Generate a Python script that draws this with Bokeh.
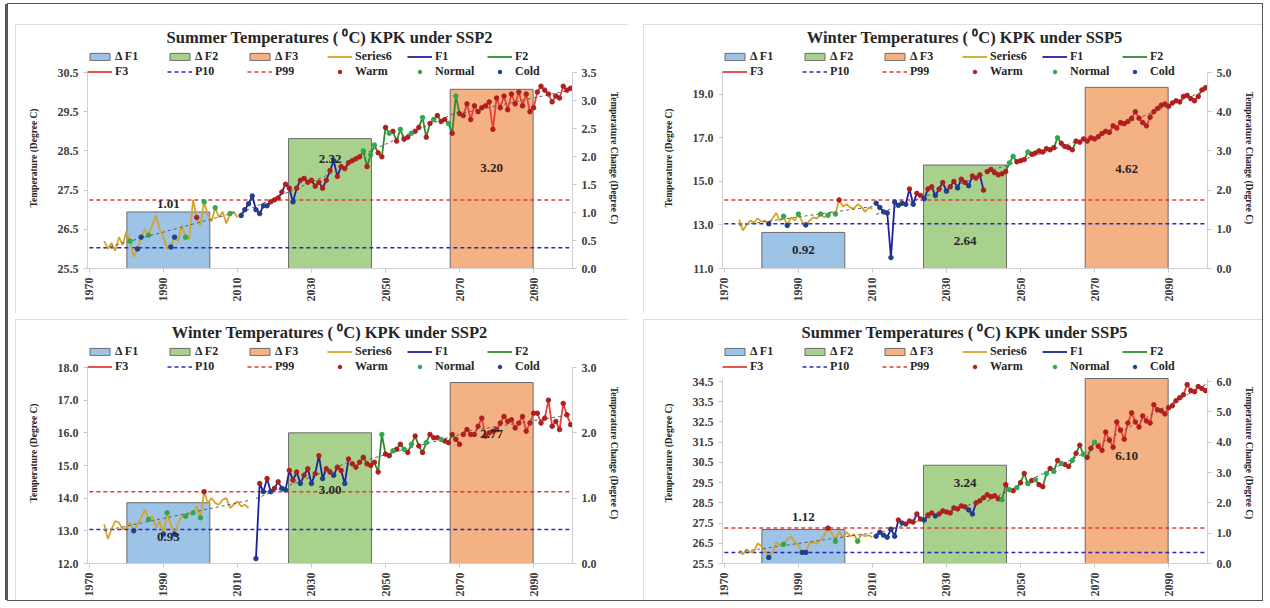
import math
import numpy as np
from bokeh.plotting import figure
from bokeh.models import (Range1d, LinearAxis, FixedTicker, NumeralTickFormatter,
                          Legend, LegendItem, ColumnDataSource, LabelSet)
from bokeh.layouts import column, row
from bokeh.embed import file_html
from bokeh.resources import INLINE

# ---------------- data ----------------
AXIS_YEARS = list(range(1970, 2101))          # category axis of the original chart
HIST_START = 1974                             # first year of Series6
FUT_START = 2011                              # first year of F1..F3
PERIODS = ["Δ F1", "Δ F2", "Δ F3"]
X_TICKS = [1970, 1990, 2010, 2030, 2050, 2070, 2090]

# --- Summer SSP2 (top left)
TL_HIST = [26.2, 26.0, 26.15, 25.95, 26.3, 26.1, 26.45,
           26.2, 25.8, 26.0, 26.3, 26.5, 26.35, 26.6, 26.85, 26.5, 26.3,
           26.0, 26.05, 26.3, 26.2, 26.6, 26.3, 26.25, 27.25, 26.8, 26.6,
           27.2, 26.85, 26.7, 27.05, 26.8, 26.95, 26.65, 26.9, 26.95, 26.8]
TL_HIST_CAT = "......." + "N.CC.N...." + ".CC..N..W." + "N..N...N.."
TL_FUT = [26.85, 27.0, 27.15, 27.35, 27.0, 26.9, 27.1, 27.1, 27.2, 27.25,
          27.3, 27.45, 27.65, 27.55, 27.2, 27.55, 27.75, 27.8, 27.7, 27.75,
          27.6, 27.7, 27.55, 27.75, 28.0, 28.25, 27.85, 28.1, 28.05, 28.2,
          28.25, 28.3, 28.35, 28.5, 28.1, 28.4, 28.65, 28.45, 28.35, 29.1,
          28.95, 29.0, 28.75, 29.05, 28.8, 28.85, 28.95, 29.0, 29.1, 29.35,
          28.85, 29.2, 29.3, 29.4, 29.25, 29.3, 29.2, 28.95, 29.9, 29.45,
          29.4, 29.7, 29.3, 29.65, 29.5, 29.6, 29.65, 29.75, 29.05, 29.85,
          29.6, 29.9, 29.55, 29.95, 29.7, 30.0, 29.65, 29.95, 29.5, 29.6,
          30.0, 30.15, 30.05, 29.95, 29.75, 29.9, 29.85, 30.15, 30.05, 30.1]
TL_FUT_CAT = ("CCCCCCCCWW" "WWWWCWWWWW" "WWWWWCWWWW"
              "WWWNWNNWWW" "NWWNWWNWWN" "WWNWWWNWNW"
              "WWWWWWWWWW" "WWWWWWWWWW" "WWWWWWWWWW")
TL_DELTA = [1.01, 2.32, 3.20]
TL_DELTA_TXT = ["1.01", "2.32", "3.20"]
TL_P10, TL_P99 = 26.03, 27.25

# --- Winter SSP5 (top right)
TR_HIST = [13.25, 12.75, 13.0, 13.2, 13.1, 13.3, 13.15,
           13.2, 13.05, 13.3, 13.55, 13.2, 13.4, 12.98, 13.35, 13.2, 13.5,
           13.15, 13.0, 13.2, 13.35, 13.3, 13.5, 13.35, 13.45, 13.6, 13.5,
           14.15, 13.85, 13.95, 13.8, 13.75, 13.95, 13.85, 13.6, 13.8, 13.75]
TR_HIST_CAT = "......." + ".C...NC..N" + ".C...N.N.N" + "W........."
TR_FUT = [14.0, 13.8, 13.6, 13.55, 11.5, 14.05, 13.9, 14.0, 13.95, 14.65,
          13.95, 14.45, 14.35, 14.2, 14.65, 14.75, 14.35, 14.65, 14.95, 14.55,
          14.75, 15.0, 14.7, 15.1, 14.95, 14.8, 15.25, 15.15, 15.3, 14.6,
          15.45, 15.55, 15.4, 15.3, 15.35, 15.45, 15.85, 16.15, 15.9, 15.95,
          16.0, 16.35, 16.25, 16.3, 16.4, 16.35, 16.5, 16.45, 16.55, 17.0,
          16.75, 16.6, 16.55, 16.45, 16.85, 16.8, 16.95, 16.85, 17.0, 16.95,
          17.05, 17.2, 17.3, 17.25, 17.55, 17.45, 17.7, 17.65, 17.75, 17.9,
          18.2, 17.9, 17.7, 17.55, 17.95, 18.2, 18.35, 18.5, 18.55, 18.45,
          18.6, 18.7, 18.65, 18.9, 18.95, 18.8, 18.7, 18.9, 19.2, 19.3]
TR_FUT_CAT = ("CCCCCCCCCW" "CWWCWWCWWC" "WWCWWCWWWW"
              "WWWWWWNNWW" "WNWWWWWWWN" "WWWWWWWWWW"
              "WWWWWWWWWW" "WWWWWWWWWW" "WWWWWWWWWW")
TR_DELTA = [0.92, 2.64, 4.62]
TR_DELTA_TXT = ["0.92", "2.64", "4.62"]
TR_P10, TR_P99 = 13.05, 14.15

# --- Winter SSP2 (bottom left)
BL_HIST = [13.2, 12.75, 13.05, 13.3, 13.25, 13.05, 13.1,
           13.25, 13.0, 13.2, 13.4, 13.65, 13.35, 13.45, 13.1, 13.3, 12.9,
           13.55, 13.2, 12.9, 13.25, 13.45, 13.45, 13.5, 13.55, 13.75, 13.4,
           14.2, 13.85, 14.0, 13.85, 13.8, 13.95, 14.0, 13.7, 13.8, 13.9,
           13.75, 13.8, 13.7]
BL_HIST_CAT = "......." + ".C...N...C" + "N.C..N.N.N" + "W........." + "..."
BL_FUT = [None, None, None, None, 12.15, 14.45, 14.2, 14.6, 14.2, 14.3,
          14.5, 14.3, 14.25, 14.85, 14.55, 14.8, 14.45, 14.7, 14.9, 14.45,
          14.75, 15.3, 14.6, 14.9, 14.8, 14.7, 14.95, 14.85, 14.45, 15.2,
          15.05, 14.95, 15.1, 15.25, 15.05, 15.0, 15.1, 14.8, 15.95, 15.35,
          15.3, 15.45, 15.5, 15.65, 15.5, 15.4, 15.65, 15.9, 15.6, 15.4,
          15.7, 15.95, 15.85, 15.85, 15.8, 15.75, 15.7, 15.95, 15.8, 15.65,
          15.95, 16.1, 15.95, 15.95, 16.2, 16.45, 15.9, 16.0, 16.05, 16.1,
          16.3, 16.5, 16.35, 16.4, 16.15, 16.3, 16.5, 16.05, 16.3, 16.6,
          16.6, 16.3, 16.45, 17.0, 16.2, 16.35, 16.1, 16.9, 16.55, 16.25]
BL_FUT_CAT = ("....CWCWCW" "WCCWWWCWWC" "WWCWWCWWCW"
              "WWWWWWWWNW" "WNWWNWNWWW" "NWWWNWWWWW"
              "WWWWWWWWWW" "WWWWWWWWWW" "WWWWWWWWWW")
BL_DELTA = [0.93, 2.00, 2.77]
BL_DELTA_TXT = ["0.93", "3.00", "2.77"]
BL_P10, BL_P99 = 13.04, 14.2

# --- Summer SSP5 (bottom right)
BR_HIST = [26.15, 25.95, 26.2, 26.05, 26.1, 26.5, 26.35,
           26.1, 25.8, 26.05, 26.55, 26.4, 26.45, 26.7, 26.85, 26.55, 26.4,
           26.05, 26.05, 26.5, 26.55, 26.5, 26.7, 26.9, 27.25, 27.0, 26.6,
           27.1, 26.8, 27.05, 26.85, 26.95, 26.6, 26.95, 26.85, 26.9, 26.8]
BR_HIST_CAT = "......." + ".C...N...." + "CC.....W.N" + ".....N...."
BR_FUT = [26.85, 27.05, 26.9, 26.8, 27.2, 26.85, 27.65, 27.5, 27.45, 27.6,
          27.55, 27.95, 27.7, 27.65, 27.9, 28.0, 27.85, 27.95, 28.1, 28.05,
          28.0, 28.25, 28.2, 28.35, 28.3, 28.15, 27.95, 28.5, 28.6, 28.75,
          28.9, 28.8, 28.85, 28.7, 28.65, 29.4, 29.15, 29.1, 29.25, 29.5,
          29.95, 29.45, 29.6, 29.65, 29.4, 29.3, 29.95, 30.2, 30.05, 30.6,
          30.45, 30.4, 30.3, 30.6, 30.95, 31.35, 30.9, 30.75, 31.2, 31.5,
          31.3, 31.1, 32.0, 31.6, 31.25, 32.5, 32.1, 31.65, 32.45, 32.95,
          32.5, 32.25, 32.8, 32.55, 32.45, 33.35, 33.1, 33.05, 32.9, 33.2,
          33.3, 33.55, 33.7, 33.85, 34.35, 34.05, 34.0, 34.25, 34.15, 34.05]
BR_FUT_CAT = ("CCCCCCWCWW" "WWWCWWCWWW" "WWWWWCCWWW"
              "WWWWNWNWNW" "WNWNWWNWNW" "NWWNWWNWWN"
              "WWWWWWWWWW" "WWWWWWWWWW" "WWWWWWWWWW")
BR_DELTA = [1.12, 3.24, 6.10]
BR_DELTA_TXT = ["1.12", "3.24", "6.10"]
BR_P10, BR_P99 = 26.05, 27.25

# ---------------- styling ----------------
FONT = "Liberation Serif"
TXT = "#262626"
BAR_FILL = ["#9DC3E6", "#A9D18E", "#F4B183"]
BAR_LINE = "#6b6b6b"
C_HIST, C_F1, C_F2, C_F3 = "#D4A52A", "#1F1F9F", "#2E8B2E", "#E8413C"
C_P10, C_P99 = "#2B2BB8", "#E03A3A"
CAT_COL = {"W": "#B01E1E", "N": "#2FA84F", "C": "#1F3F8F"}
LEG_H = 28          # legend height (2 rows of 14 px)


def style_axis(ax):
    ax.major_label_text_font = FONT
    ax.major_label_text_font_style = "bold"
    ax.major_label_text_font_size = "12px"
    ax.major_label_text_color = "#404040"
    ax.axis_label_text_font = FONT
    ax.axis_label_text_font_style = "bold"
    ax.axis_label_text_font_size = "9.5px"
    ax.axis_label_text_color = TXT
    ax.axis_line_color = "#d0d0d0"
    ax.major_tick_line_color = "#c8c8c8"
    ax.minor_tick_line_color = None
    ax.major_tick_in = 0
    ax.major_tick_out = 4


def panel(title, hist, hist_cat, fut, fut_cat, delta, delta_txt, p10, p99,
          yl, yl_ticks, yr, yr_ticks, geom, label_y):
    w, h, bl, br, bt, bb, head = geom
    frame_h = h - bt - bb
    data_h = frame_h - head
    grow = frame_h / data_h                   # room above the value axes for the legend
    yl_top = yl[0] + (yl[1] - yl[0]) * grow
    yr_top = yr[0] + (yr[1] - yr[0]) * grow
    p = figure(width=w, height=h, x_range=Range1d(1969.5, 2100.5), y_range=Range1d(yl[0], yl_top),
               output_backend="svg", toolbar_location=None,
               min_border_left=bl, min_border_right=br, min_border_top=bt, min_border_bottom=bb)
    p.extra_y_ranges = {"chg": Range1d(yr[0], yr_top)}
    # secondary category axis of the bars: one slot per period
    p.extra_x_ranges = {"per": Range1d(0, len(PERIODS))}
    bar_x = [i + 0.5 for i in range(len(PERIODS))]
    p.xgrid.visible = False
    p.ygrid.visible = False
    p.outline_line_color = None
    p.background_fill_color = "white"
    p.border_fill_color = "white"
    p.styles = {"outline": "1px solid #d4d4d4", "outline-offset": "-1px"}

    # bars (delta)
    bars = []
    for i in range(3):
        r = p.vbar(x=[bar_x[i]], top=[delta[i]], bottom=0, width=0.513,
                   x_range_name="per", y_range_name="chg",
                   fill_color=BAR_FILL[i], line_color=BAR_LINE, line_width=1)
        bars.append(r)
    lab = ColumnDataSource(dict(x=bar_x, y=label_y, t=delta_txt))
    p.add_layout(LabelSet(x="x", y="y", text="t", source=lab, x_range_name="per", y_range_name="chg",
                          text_align="center", text_baseline="middle", text_font=FONT,
                          text_font_style="bold", text_font_size="13px", text_color=TXT))

    # percentile lines
    r_p10 = p.line(AXIS_YEARS, [p10] * len(AXIS_YEARS), line_color=C_P10, line_dash="4 3", line_width=1.5)
    r_p99 = p.line(AXIS_YEARS, [p99] * len(AXIS_YEARS), line_color=C_P99, line_dash="4 3", line_width=1.5)

    hy = list(range(HIST_START, HIST_START + len(hist)))
    fy = list(range(FUT_START, FUT_START + len(fut)))
    hv = np.array([np.nan if v is None else v for v in hist], dtype=float)
    fv = np.array([np.nan if v is None else v for v in fut], dtype=float)

    segs = [(hy, hv, C_HIST), (fy[0:30], fv[0:30], C_F1), (fy[30:60], fv[30:60], C_F2), (fy[60:90], fv[60:90], C_F3)]
    line_rs = []
    for xs, ys, col in segs:
        line_rs.append(p.line(xs, ys, line_color=col, line_width=1.8))
    # linear trend of each series (as Excel trendlines)
    for xs, ys, col in segs:
        xa = np.array(xs, dtype=float)
        m = ~np.isnan(ys)
        k, b = np.polyfit(xa[m], ys[m], 1)
        p.line(xa[m], k * xa[m] + b, line_color="#5a5a5a", line_dash="3 3", line_width=1)

    # classified points
    pts = {"W": ([], []), "N": ([], []), "C": ([], [])}
    for xs, ys, cats in [(hy, hv, hist_cat), (fy, fv, fut_cat)]:
        for i, (x, y) in enumerate(zip(xs, ys)):
            c = cats[i] if i < len(cats) else "."
            if c in pts and not np.isnan(y):
                pts[c][0].append(x)
                pts[c][1].append(y)
    sc = {}
    for c in ["W", "N", "C"]:
        sc[c] = p.scatter(pts[c][0], pts[c][1], size=4.5, marker="circle",
                          fill_color=CAT_COL[c], line_color=CAT_COL[c])

    # axes
    p.yaxis.ticker = FixedTicker(ticks=yl_ticks)
    p.yaxis.formatter = NumeralTickFormatter(format="0.0")
    p.yaxis.axis_label = "Temperature (Degree C)"
    p.yaxis.axis_label_standoff = 16
    p.yaxis.bounds = (yl[0], yl[1])
    p.xaxis.ticker = FixedTicker(ticks=X_TICKS)
    p.xaxis.formatter = NumeralTickFormatter(format="0")
    p.xaxis.major_label_orientation = math.pi / 2
    ax_r = LinearAxis(y_range_name="chg", ticker=FixedTicker(ticks=yr_ticks),
                      formatter=NumeralTickFormatter(format="0.0"), bounds=(yr[0], yr[1]),
                      axis_label="Temperature Change (Degree C)", axis_label_standoff=9)
    p.add_layout(ax_r, "right")
    for ax in [p.yaxis[0], p.xaxis[0], ax_r]:
        style_axis(ax)

    # title
    p.title.text = title
    p.title.align = "center"
    p.title.text_font = FONT
    p.title.text_font_style = "bold"
    p.title.text_font_size = "16.5px"
    p.title.text_color = TXT
    p.title.standoff = 1

    items = [LegendItem(label=PERIODS[0], renderers=[bars[0]]),
             LegendItem(label=PERIODS[1], renderers=[bars[1]]),
             LegendItem(label=PERIODS[2], renderers=[bars[2]]),
             LegendItem(label="Series6", renderers=[line_rs[0]]),
             LegendItem(label="F1", renderers=[line_rs[1]]),
             LegendItem(label="F2", renderers=[line_rs[2]]),
             LegendItem(label="F3", renderers=[line_rs[3]]),
             LegendItem(label="P10", renderers=[r_p10]),
             LegendItem(label="P99", renderers=[r_p99]),
             LegendItem(label="Warm", renderers=[sc["W"]]),
             LegendItem(label="Normal", renderers=[sc["N"]]),
             LegendItem(label="Cold", renderers=[sc["C"]])]
    leg = Legend(items=items, location=(0, frame_h - LEG_H - 4), orientation="horizontal", ncols=6,
                 glyph_width=25, glyph_height=9, label_height=14, label_width=52,
                 label_standoff=3, spacing=0, padding=0, margin=0,
                 border_line_color=None, background_fill_alpha=0,
                 label_text_font=FONT, label_text_font_style="bold",
                 label_text_font_size="12px", label_text_color=TXT)
    p.add_layout(leg)
    return p


tl = panel("Summer Temperatures ( \u2070C) KPK under SSP2", TL_HIST, TL_HIST_CAT, TL_FUT, TL_FUT_CAT,
           TL_DELTA, TL_DELTA_TXT, TL_P10, TL_P99,
           (25.5, 30.5), [25.5, 26.5, 27.5, 28.5, 29.5, 30.5], (0, 3.5), [0, 0.5, 1, 1.5, 2, 2.5, 3, 3.5],
           (613, 289, 72, 56, 23, 45, 25), [1.16, 1.96, 1.79])
tr = panel("Winter Temperatures ( \u2070C) KPK under SSP5", TR_HIST, TR_HIST_CAT, TR_FUT, TR_FUT_CAT,
           TR_DELTA, TR_DELTA_TXT, TR_P10, TR_P99,
           (11, 20), [11, 13, 15, 17, 19], (0, 5), [0, 1, 2, 3, 4, 5],
           (619, 289, 79, 55, 23, 45, 25), [0.48, 0.69, 2.55])
bl = panel("Winter Temperatures ( \u2070C) KPK under SSP2", BL_HIST, BL_HIST_CAT, BL_FUT, BL_FUT_CAT,
           BL_DELTA, BL_DELTA_TXT, BL_P10, BL_P99,
           (12, 18), [12, 13, 14, 15, 16, 17, 18], (0, 3), [0, 1, 2, 3],
           (613, 281, 72, 56, 23, 37, 25), [0.40, 1.12, 1.98])
br = panel("Summer Temperatures ( \u2070C) KPK under SSP5", BR_HIST, BR_HIST_CAT, BR_FUT, BR_FUT_CAT,
           BR_DELTA, BR_DELTA_TXT, BR_P10, BR_P99,
           (25.5, 34.65), [25.5, 26.5, 27.5, 28.5, 29.5, 30.5, 31.5, 32.5, 33.5, 34.5], (0, 6.1), [0, 1, 2, 3, 4, 5, 6],
           (619, 281, 79, 55, 23, 37, 36), [1.52, 2.64, 3.53])

tl.margin = (20, 0, 0, 7)
tr.margin = (20, 0, 0, 15)
bl.margin = (6, 0, 0, 7)
br.margin = (6, 0, 0, 15)

layout = column(row(tl, tr), row(bl, br))
layout.margin = (4, 0, 0, 8)
layout.styles = {"outline": "1px solid #555", "box-shadow": "-3px 0 0 0 #555"}

open("out.html", "w").write(file_html(layout, INLINE))
